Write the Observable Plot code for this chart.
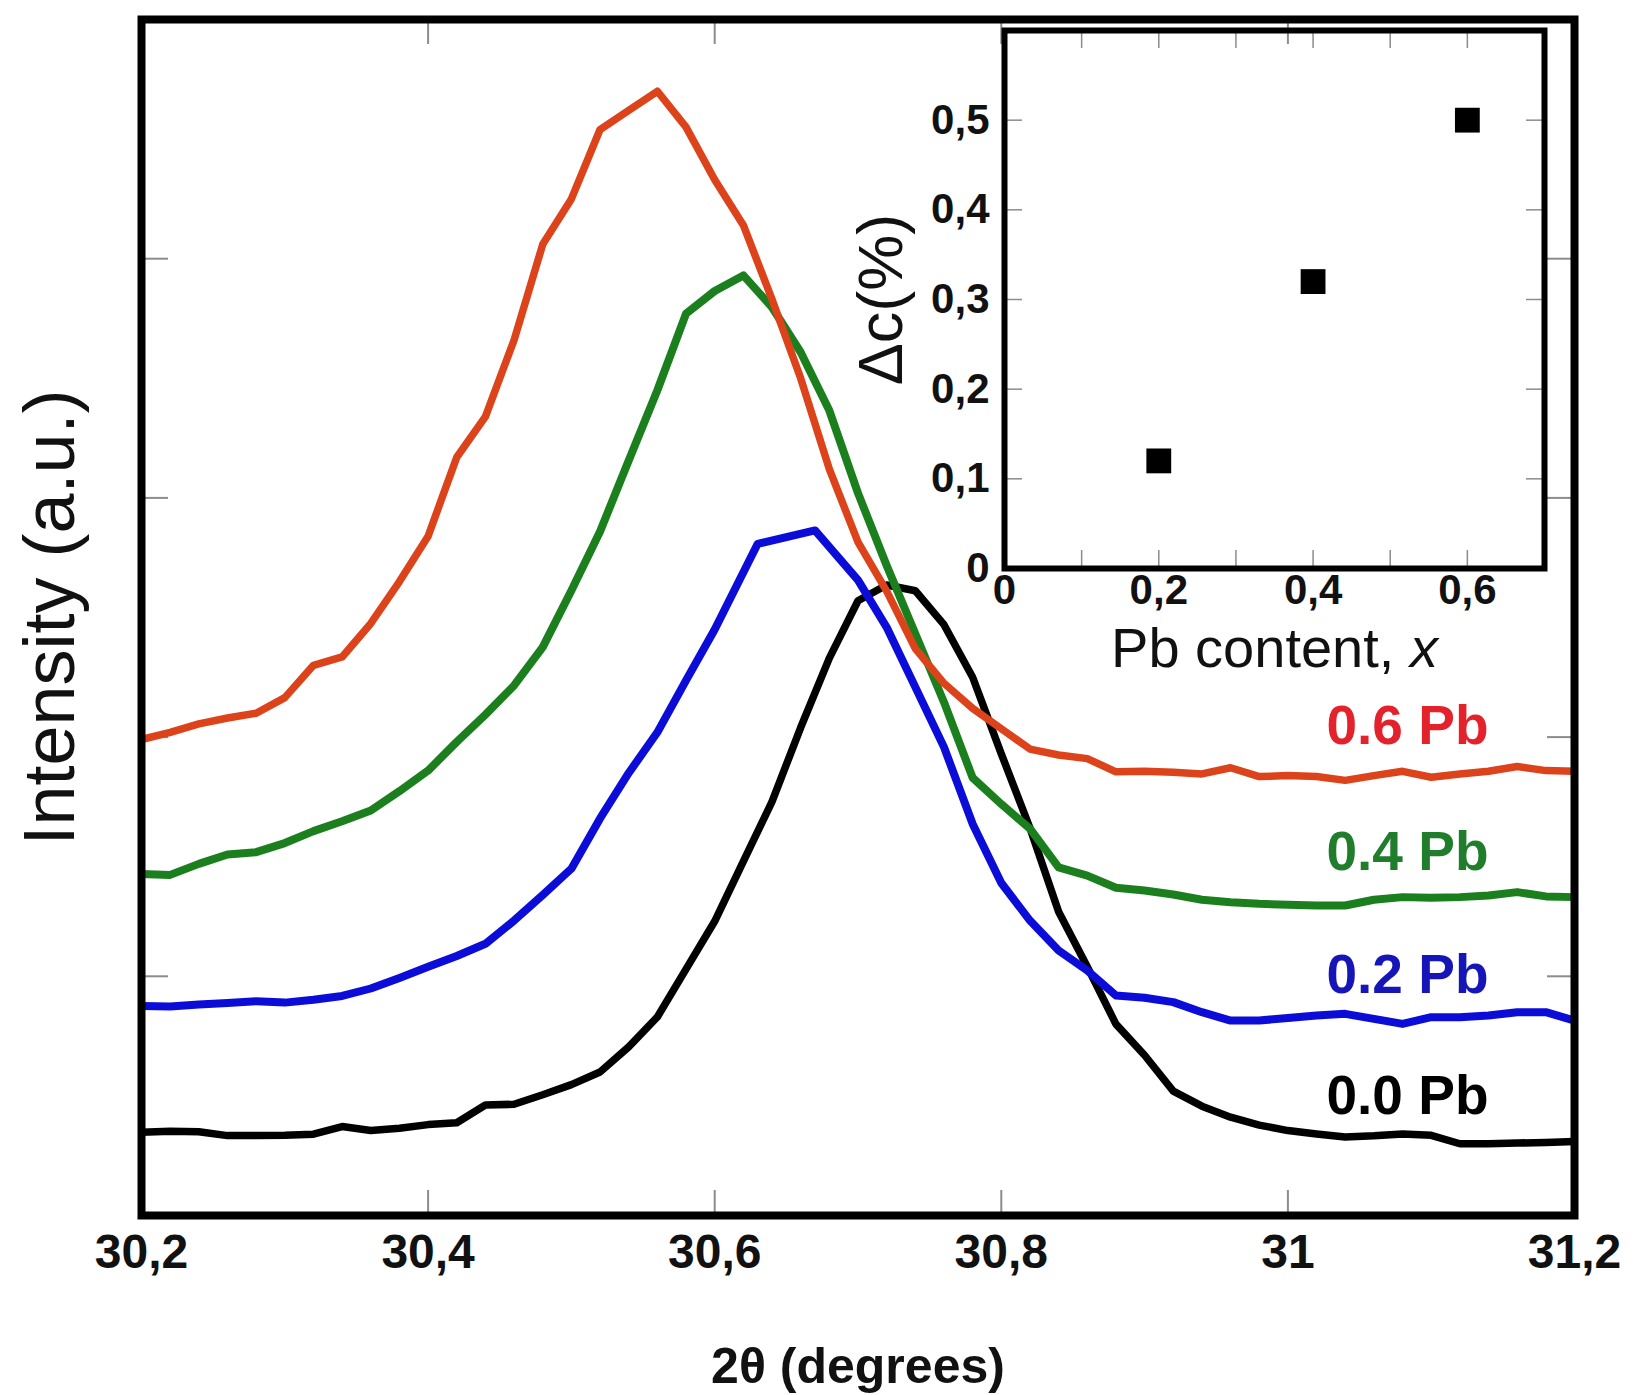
<!DOCTYPE html>
<html>
<head>
<meta charset="utf-8">
<script src="https://cdn.jsdelivr.net/npm/d3@7"></script>
<script src="https://cdn.jsdelivr.net/npm/@observablehq/plot@0.6"></script>
<style>
  html, body { margin: 0; padding: 0; background: #ffffff; }
  #wrap { position: relative; width: 1635px; height: 1395px; font-family: "Liberation Sans", Arial, sans-serif; }
  #main { position: absolute; left: 0; top: 0; }
  #inset { position: absolute; left: 850px; top: 0; }
</style>
</head>
<body>
<div id="wrap"><div id="main"></div><div id="inset"></div></div>
<script>
// ---------------- DATA ----------------
const twoTheta = [30.20, 30.22, 30.24, 30.26, 30.28, 30.30, 30.32, 30.34, 30.36, 30.38,
  30.40, 30.42, 30.44, 30.46, 30.48, 30.50, 30.52, 30.54, 30.56, 30.58,
  30.60, 30.62, 30.64, 30.66, 30.68, 30.70, 30.72, 30.74, 30.76, 30.78,
  30.80, 30.82, 30.84, 30.86, 30.88, 30.90, 30.92, 30.94, 30.96, 30.98,
  31.00, 31.02, 31.04, 31.06, 31.08, 31.10, 31.12, 31.14, 31.16, 31.18, 31.20];

const twoThetaPb02 = [30.20, 30.22, 30.24, 30.26, 30.28, 30.30, 30.32, 30.34, 30.36, 30.38,
  30.40, 30.42, 30.44, 30.46, 30.48, 30.50, 30.52, 30.54, 30.56, 30.58,
  30.60, 30.63, 30.67, 30.70, 30.72, 30.74, 30.76, 30.78,
  30.80, 30.82, 30.84, 30.86, 30.88, 30.90, 30.92, 30.94, 30.96, 30.98,
  31.00, 31.02, 31.04, 31.06, 31.08, 31.10, 31.12, 31.14, 31.16, 31.18, 31.20];

const intensityPb00 = [0.348, 0.352, 0.350, 0.334, 0.334, 0.335, 0.340, 0.372, 0.355, 0.365,
  0.380, 0.388, 0.462, 0.465, 0.505, 0.547, 0.600, 0.705, 0.830, 1.030,
  1.230, 1.480, 1.730, 2.040, 2.330, 2.570, 2.636, 2.612, 2.470, 2.250,
  1.930, 1.620, 1.270, 1.040, 0.800, 0.670, 0.520, 0.457, 0.411, 0.378,
  0.355, 0.341, 0.328, 0.333, 0.341, 0.335, 0.300, 0.300, 0.303, 0.305, 0.309];

const intensityPb02 = [0.876, 0.874, 0.882, 0.888, 0.896, 0.890, 0.902, 0.918, 0.949, 0.993,
  1.040, 1.085, 1.136, 1.233, 1.340, 1.450, 1.660, 1.850, 2.020, 2.237,
  2.450, 2.808, 2.864, 2.656, 2.459, 2.209, 1.958, 1.637,
  1.390, 1.233, 1.108, 1.024, 0.920, 0.910, 0.892, 0.850, 0.815, 0.815,
  0.826, 0.836, 0.843, 0.822, 0.801, 0.829, 0.829, 0.836, 0.850, 0.850, 0.815];

const intensityPb04 = [1.428, 1.424, 1.470, 1.509, 1.519, 1.557, 1.607, 1.648, 1.693, 1.774,
  1.860, 1.980, 2.094, 2.216, 2.376, 2.613, 2.860, 3.156, 3.450, 3.770,
  3.865, 3.930, 3.797, 3.609, 3.365, 3.020, 2.717, 2.432, 2.146, 1.830,
  1.720, 1.617, 1.455, 1.421, 1.370, 1.359, 1.342, 1.320, 1.310, 1.303,
  1.299, 1.296, 1.296, 1.320, 1.331, 1.328, 1.331, 1.338, 1.352, 1.334, 1.331];

const intensityPb06 = [1.990, 2.020, 2.055, 2.080, 2.100, 2.165, 2.300, 2.335, 2.475, 2.650,
  2.840, 3.170, 3.340, 3.660, 4.060, 4.250, 4.540, 4.620, 4.700, 4.550,
  4.330, 4.140, 3.830, 3.500, 3.120, 2.815, 2.610, 2.370, 2.225, 2.120,
  2.035, 1.950, 1.925, 1.910, 1.855, 1.857, 1.853, 1.846, 1.872, 1.835,
  1.839, 1.835, 1.819, 1.839, 1.857, 1.832, 1.846, 1.857, 1.877, 1.860, 1.857];

const seriesNames = ["0.0 Pb", "0.2 Pb", "0.4 Pb", "0.6 Pb"];
const seriesX = [twoTheta, twoThetaPb02, twoTheta, twoTheta];
const seriesY = [intensityPb00, intensityPb02, intensityPb04, intensityPb06];

const xTickLabels = [30.2, 30.4, 30.6, 30.8, 31, 31.2];
const xTickMarks = [30.4, 30.6, 30.8, 31];
const yTickMarks = [1, 2, 3, 4];

// inset
const pbContent = [0.2, 0.4, 0.6];
const deltaC = [0.12, 0.32, 0.50];
const insetXTickLabels = [0, 0.2, 0.4, 0.6];
const insetXTickMarks = [0.1, 0.2, 0.3, 0.4, 0.5, 0.6];
const insetYTickLabels = [0, 0.1, 0.2, 0.3, 0.4, 0.5];
const insetYTickMarks = [0.1, 0.2, 0.3, 0.4, 0.5];

// ---------------- STYLE ----------------
const lineColors = ["#000000", "#0c0cd8", "#1b7f1e", "#dc431b"];
const lineWidths = [7.5, 8, 8, 7.5];
const labelColors = ["#000000", "#1616b8", "#1f7d2c", "#e3222c"];
const tickColor = "#8c8c8c";
const FONT = "'Liberation Sans', Arial, Helvetica, sans-serif";
const comma = d => String(d).replace(".", ",");

// ---------------- MAIN PLOT ----------------
const W = 1635, H = 1395;
const mL = 141, mR = 61, mT = 19, mB = 180;
const fw = W - mL - mR, fh = H - mT - mB;
const tickLen = 25;

const mainMarks = [
  Plot.tickX(xTickMarks, {x: d => d, stroke: tickColor, strokeWidth: 2, insetTop: fh - tickLen}),
  Plot.tickX(xTickMarks, {x: d => d, stroke: tickColor, strokeWidth: 2, insetBottom: fh - tickLen}),
  Plot.tickY(yTickMarks, {y: d => d, stroke: tickColor, strokeWidth: 2, insetRight: fw - 27}),
  Plot.tickY(yTickMarks, {y: d => d, stroke: tickColor, strokeWidth: 2, insetLeft: fw - 27})
];

for (let i = 0; i < seriesNames.length; i++) {
  const rows = seriesX[i].map((x, j) => ({x, y: seriesY[i][j]}));
  mainMarks.push(Plot.line(rows, {x: "x", y: "y", stroke: lineColors[i], strokeWidth: lineWidths[i],
    strokeLinejoin: "round", strokeLinecap: "butt"}));
}
for (let i = 0; i < seriesNames.length; i++) {
  const n = seriesX[i].length;
  mainMarks.push(Plot.text([{x: seriesX[i][n - 1], y: seriesY[i][n - 1], name: seriesNames[i]}], {
    x: "x", y: "y", text: "name", textAnchor: "end", lineAnchor: "middle", dx: -86, dy: -45,
    fill: labelColors[i], fontSize: 55, fontWeight: "bold"
  }));
}

mainMarks.push(Plot.frame({stroke: "#000", strokeWidth: 8}));
mainMarks.push(Plot.axisX({ticks: xTickLabels, tickSize: 0, tickPadding: 18, tickFormat: comma,
  fontSize: 48, fontWeight: "bold", label: null, fill: "#111"}));
mainMarks.push(Plot.text(["2θ (degrees)"], {frameAnchor: "bottom", lineAnchor: "middle", dy: 151,
  fontSize: 50, fontWeight: "bold", fill: "#111"}));
mainMarks.push(Plot.text(["Intensity (a.u.)"], {frameAnchor: "left", textAnchor: "middle",
  lineAnchor: "middle", rotate: -90, dx: -91, fontSize: 72, fill: "#111"}));

const main = Plot.plot({
  width: W, height: H,
  marginLeft: mL, marginRight: mR, marginTop: mT, marginBottom: mB,
  x: {domain: [30.2, 31.2], label: null},
  y: {domain: [0, 5], axis: null},
  style: {background: "transparent", fontFamily: FONT, overflow: "visible"},
  marks: mainMarks
});
document.getElementById("main").appendChild(main);

// ---------------- INSET ----------------
const iW = 710, iH = 680;
const iL = 154, iR = 16, iT = 30, iB = 112;
const ifw = iW - iL - iR, ifh = iH - iT - iB;
const iTick = 18;

const insetMarks = [
  Plot.tickX(insetXTickMarks, {x: d => d, stroke: tickColor, strokeWidth: 1.5, insetTop: ifh - iTick}),
  Plot.tickX(insetXTickMarks, {x: d => d, stroke: tickColor, strokeWidth: 1.5, insetBottom: ifh - iTick}),
  Plot.tickY(insetYTickMarks, {y: d => d, stroke: tickColor, strokeWidth: 1.5, insetRight: ifw - iTick}),
  Plot.tickY(insetYTickMarks, {y: d => d, stroke: tickColor, strokeWidth: 1.5, insetLeft: ifw - iTick}),
  Plot.dot(pbContent.map((x, i) => ({x, y: deltaC[i]})), {x: "x", y: "y", symbol: "square", r: 14, fill: "#000"}),
  Plot.frame({stroke: "#000", strokeWidth: 6}),
  Plot.axisX({ticks: insetXTickLabels, tickSize: 0, tickPadding: 6, tickFormat: comma,
    fontSize: 42, fontWeight: "bold", label: null, fill: "#111"}),
  Plot.axisY({ticks: insetYTickLabels, tickSize: 0, tickPadding: 15, tickFormat: comma,
    fontSize: 42, fontWeight: "bold", label: null, fill: "#111"}),
  Plot.text(["Δc(%)"], {frameAnchor: "left", textAnchor: "middle", lineAnchor: "middle",
    rotate: -90, dx: -123, fontSize: 63, fill: "#111"}),
  Plot.text(["Pb content, x"], {frameAnchor: "bottom", lineAnchor: "middle", dy: 81, fontSize: 56, fill: "#111"})
];

const inset = Plot.plot({
  width: iW, height: iH,
  marginLeft: iL, marginRight: iR, marginTop: iT, marginBottom: iB,
  x: {domain: [0, 0.7], label: null},
  y: {domain: [0, 0.6], label: null},
  style: {background: "transparent", fontFamily: FONT, overflow: "visible"},
  marks: insetMarks
});
document.getElementById("inset").appendChild(inset);

// italic "x" in the inset x-axis label
for (const t of inset.querySelectorAll("text")) {
  if (t.textContent === "Pb content, x") {
    t.textContent = "";
    t.appendChild(document.createTextNode("Pb content, "));
    const ts = document.createElementNS("http://www.w3.org/2000/svg", "tspan");
    ts.setAttribute("font-style", "italic");
    ts.textContent = "x";
    t.appendChild(ts);
  }
}
</script>
</body>
</html>
